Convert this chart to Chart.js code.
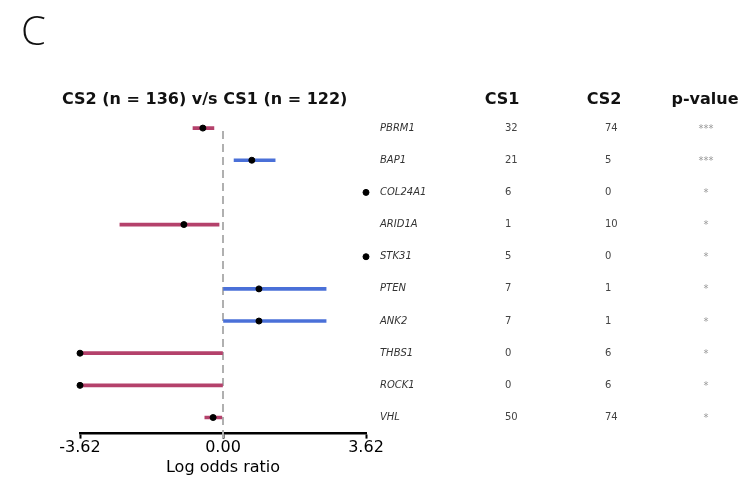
<!DOCTYPE html>
<html>
<head>
<meta charset="utf-8">
<script src="https://cdn.jsdelivr.net/npm/chart.js@4"></script>
<style>
html,body{margin:0;padding:0;background:#fff;}
#wrap{width:741px;height:479px;position:relative;}
</style>
</head>
<body>
<div id="wrap"><canvas id="c" width="741" height="479"></canvas></div>
<script>
// ---- data ----
const genes = ["PBRM1","BAP1","COL24A1","ARID1A","STK31","PTEN","ANK2","THBS1","ROCK1","VHL"];
const logOR = [-0.51, 0.73, 3.62, -0.99, 3.62, 0.91, 0.91, -3.62, -3.62, -0.25];
const ciLow  = [-0.76, 0.28, null, -2.61, null, 0.00, 0.00, -3.62, -3.62, -0.46];
const ciHigh = [-0.23, 1.32, null, -0.10, null, 2.61, 2.61, 0.00, 0.00, -0.03];
const cs1 = [32, 21, 6, 1, 5, 7, 7, 0, 0, 50];
const cs2 = [74, 5, 0, 10, 0, 1, 1, 6, 6, 74];
const pval = ["***","***","*","*","*","*","*","*","*","*"];
const xTicks = [-3.62, 0, 3.62];
const panelLabel = "C";
const chartTitle = "CS2 (n = 136) v/s CS1 (n = 122)";
const colHeaders = ["CS1","CS2","p-value"];
const axisTitle = "Log odds ratio";

const RED = "#b4416b", BLUE = "#4a70d8";

const ciData = genes.map((g,i)=> ciLow[i]===null ? null : [ciLow[i], ciHigh[i]]);
const ciColors = genes.map((g,i)=> logOR[i] < 0 ? RED : BLUE);
const pts = genes.map((g,i)=>({x: logOR[i], y: g}));

const overlay = {
  id: 'overlay',
  beforeDatasetsDraw(chart){
    const {ctx, scales:{x,y}} = chart;
    const x0 = x.getPixelForValue(0);
    ctx.save();
    ctx.strokeStyle = '#b0b0b0';
    ctx.lineWidth = 2;
    ctx.setLineDash([8,5]);
    ctx.beginPath();
    ctx.moveTo(x0, y.getPixelForValue(0) + 3);
    ctx.lineTo(x0, chart.chartArea.bottom + 6);
    ctx.stroke();
    ctx.restore();
  },
  afterDraw(chart){
    const {ctx, scales:{y}} = chart;
    ctx.save();
    ctx.fillStyle = '#111';
    ctx.textBaseline = 'middle';
    ctx.font = '300 40px "Open Sans", "DejaVu Sans", sans-serif';
    ctx.textAlign = 'left';
    ctx.fillText(panelLabel, 21, 34);
    ctx.font = 'bold 16px "DejaVu Sans", sans-serif';
    ctx.fillText(chartTitle, 62, 100);
    ctx.textAlign = 'center';
    ctx.fillText(colHeaders[0], 502, 100);
    ctx.fillText(colHeaders[1], 604, 100);
    ctx.fillText(colHeaders[2], 705, 100);
    genes.forEach((g,i)=>{
      const py = y.getPixelForValue(i);
      ctx.fillStyle = '#333';
      ctx.textAlign = 'left';
      ctx.font = 'italic 10px "DejaVu Sans", sans-serif';
      ctx.fillText(g, 380, py);
      ctx.fillStyle = '#444';
      ctx.font = '10px "DejaVu Sans", sans-serif';
      ctx.fillText(String(cs1[i]), 505, py);
      ctx.fillText(String(cs2[i]), 605, py);
      ctx.textAlign = 'center';
      ctx.fillStyle = '#999';
      ctx.font = '10px "DejaVu Sans", sans-serif';
      ctx.fillText(pval[i], 706, py + 1);
    });
    ctx.restore();
  }
};

new Chart(document.getElementById('c'), {
  type: 'bar',
  data: {
    labels: genes,
    datasets: [
      {
        type: 'scatter',
        data: pts,
        backgroundColor: '#000',
        borderColor: '#000',
        pointRadius: 3,
        pointHoverRadius: 3,
        clip: false,
        order: 0
      },
      {
        type: 'bar',
        data: ciData,
        backgroundColor: ciColors,
        borderWidth: 0,
        barThickness: 3,
        borderSkipped: false,
        order: 1
      }
    ]
  },
  options: {
    indexAxis: 'y',
    responsive: false,
    animation: false,
    events: [],
    layout: { padding: { left: 80, right: 375, top: 112, bottom: 0 } },
    plugins: { legend: {display:false}, tooltip: {enabled:false}, title:{display:false} },
    scales: {
      y: {
        type: 'category',
        labels: genes,
        offset: true,
        display: false
      },
      x: {
        type: 'linear',
        min: -3.62, max: 3.62,
        afterBuildTicks: (ax) => { ax.ticks = xTicks.map(v=>({value:v})); },
        ticks: {
          autoSkip: false,
          maxRotation: 0,
          color: '#000',
          padding: 0,
          font: { family: '"DejaVu Sans", sans-serif', size: 16 },
          callback: (v) => Number(v).toFixed(2)
        },
        grid: {
          drawOnChartArea: false,
          drawTicks: true,
          tickLength: 5,
          tickWidth: 2,
          tickColor: '#000'
        },
        border: { display: true, color: '#000', width: 2.5 },
        title: {
          display: true,
          text: axisTitle,
          color: '#000',
          padding: { top: 0, bottom: 2 },
          font: { family: '"DejaVu Sans", sans-serif', size: 16 }
        }
      }
    }
  },
  plugins: [overlay]
});
</script>
</body>
</html>
